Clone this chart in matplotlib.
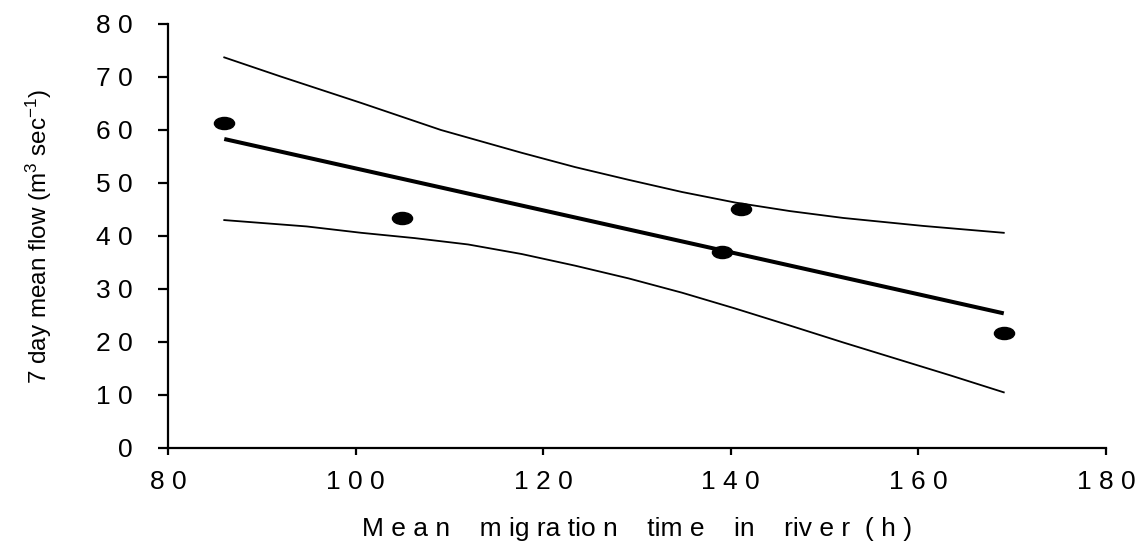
import numpy as np
import matplotlib
matplotlib.use("Agg")
import matplotlib.pyplot as plt
from matplotlib.path import Path
from matplotlib.transforms import Affine2D

plt.rcParams["font.family"] = ["Liberation Sans", "DejaVu Sans"]
plt.rcParams["mathtext.default"] = "regular"

# observed points
migration_time = [86.0, 105.0, 139.1, 141.1, 169.1]
mean_flow      = [61.3, 43.4, 37.0, 45.0, 21.7]

# fitted line (end points)
fit_x = [86.0, 169.1]
fit_y = [58.3, 25.4]

# confidence band curves
upper_x = [86.0, 92.0, 100.6, 109.1, 117.7, 123.4, 129.1, 134.8, 140.5,
           146.3, 152.0, 160.5, 169.1]
upper_y = [73.7, 70.1, 65.1, 60.0, 55.7, 53.0, 50.6, 48.3, 46.3,
           44.7, 43.4, 41.9, 40.6]
lower_x = [86.0, 94.8, 100.6, 106.3, 112.0, 117.7, 123.4, 129.1, 134.8,
           140.5, 146.3, 152.0, 157.7, 163.4, 169.1]
lower_y = [43.0, 41.8, 40.6, 39.6, 38.4, 36.6, 34.4, 32.0, 29.3,
           26.3, 23.1, 19.9, 16.8, 13.7, 10.5]

x_ticks = [80, 100, 120, 140, 160, 180]
x_tick_labels = ["8 0", "1 0 0", "1 2 0", "1 4 0", "1 6 0", "1 8 0"]
y_ticks = [0, 10, 20, 30, 40, 50, 60, 70, 80]
y_tick_labels = ["0", "1 0", "2 0", "3 0", "4 0", "5 0", "6 0", "7 0", "8 0"]

# flattened ellipse marker
ellipse = Path.unit_circle().transformed(Affine2D().scale(1.0, 0.6))

fig = plt.figure(figsize=(11.38, 5.44), dpi=100)
ax = fig.add_axes([0.1476, 0.1765, 0.8243, 0.7794])

ax.plot(upper_x, upper_y, color="black", lw=1.3)
ax.plot(lower_x, lower_y, color="black", lw=1.3)
ax.plot(fit_x, fit_y, color="black", lw=2.9, solid_capstyle="butt")
ax.plot(migration_time, mean_flow, linestyle="none", marker=ellipse,
        markersize=14.5, color="black")

ax.set_xlim(80, 180)
ax.set_ylim(0, 80)
ax.set_xticks(x_ticks)
ax.set_xticklabels(x_tick_labels)
ax.set_yticks(y_ticks)
ax.set_yticklabels(y_tick_labels)

for side in ("top", "right"):
    ax.spines[side].set_visible(False)
for side in ("left", "bottom"):
    ax.spines[side].set_linewidth(1.6)

ax.tick_params(axis="x", direction="out", length=5, width=1.6, pad=11, labelsize=19)
ax.tick_params(axis="y", direction="out", length=7.5, width=1.6, pad=18, labelsize=19)

ax.set_xlabel("M e a n    m ig ra tio n    tim e    in    riv e r  ( h )", fontsize=19)
ax.xaxis.set_label_coords(0.5, -0.163)
ax.set_ylabel("7 day mean flow (m$^{3}$ sec$^{-1}$)", fontsize=17.5)
ax.yaxis.set_label_coords(-0.122, 0.5)

fig.savefig("out.png", dpi=100)
